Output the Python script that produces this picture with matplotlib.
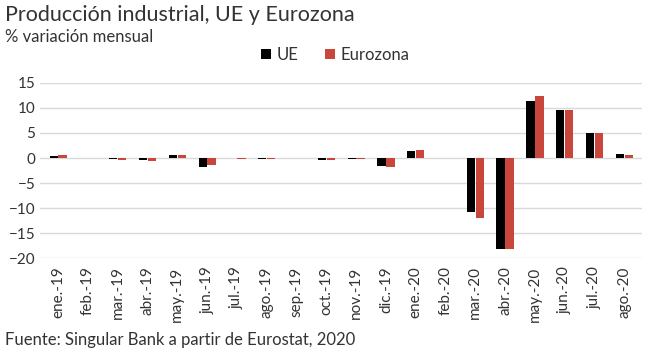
import matplotlib
matplotlib.use('Agg')
import matplotlib.pyplot as plt
import numpy as np

meses = ['ene.-19', 'feb.-19', 'mar.-19', 'abr.-19', 'may.-19', 'jun.-19', 'jul.-19',
         'ago.-19', 'sep.-19', 'oct.-19', 'nov.-19', 'dic.-19', 'ene.-20', 'feb.-20',
         'mar.-20', 'abr.-20', 'may.-20', 'jun.-20', 'jul.-20', 'ago.-20']
ue = [0.4, 0.0, -0.2, -0.4, 0.7, -1.7, 0.1, -0.2, 0.0, -0.3, -0.1, -1.5, 1.4, 0.1,
      -10.8, -18.2, 11.3, 9.5, 4.9, 0.9]
eurozona = [0.6, 0.0, -0.4, -0.6, 0.6, -1.4, -0.2, -0.2, 0.0, -0.4, -0.2, -1.7, 1.7, 0.0,
            -11.9, -18.2, 12.3, 9.5, 4.9, 0.7]

plt.rcParams['font.family'] = ['Lato', 'DejaVu Sans']
gris = '#333333'

fig = plt.figure(figsize=(6.5, 3.56), dpi=100)
ax = fig.add_axes([0.062, 0.275, 0.926, 0.492])

x = np.arange(len(meses))
w = 0.28
ax.bar(x - w / 2 - 0.01, ue, w, color='black', label='UE')
ax.bar(x + w / 2 + 0.01, eurozona, w, color='#C9463D', label='Eurozona')

ax.set_ylim(-20, 15)
ax.set_yticks(range(-20, 16, 5))
ax.set_xlim(-0.6, len(meses) - 0.4)
ax.set_xticks(x)
ax.set_xticklabels(meses, rotation=90)
ax.tick_params(axis='both', length=0, colors=gris, labelsize=11)
ax.tick_params(axis='x', pad=6)
ax.grid(axis='y', color='#d9d9d9', linewidth=1)
ax.set_axisbelow(True)
for s in ax.spines.values():
    s.set_visible(False)

fig.text(0.008, 0.94, 'Producción industrial, UE y Eurozona', fontsize=15.5, color=gris)
fig.text(0.008, 0.882, '% variación mensual', fontsize=12, color=gris)
fig.text(0.008, 0.03, 'Fuente: Singular Bank a partir de Eurostat, 2020', fontsize=12, color=gris)

ax.legend(loc='lower center', bbox_to_anchor=(0.49, 1.03), ncol=2, frameon=False,
          fontsize=12, handlelength=0.6, handleheight=0.6, handletextpad=0.3,
          columnspacing=1.6, labelcolor=gris)

fig.savefig('out.png', dpi=100)
